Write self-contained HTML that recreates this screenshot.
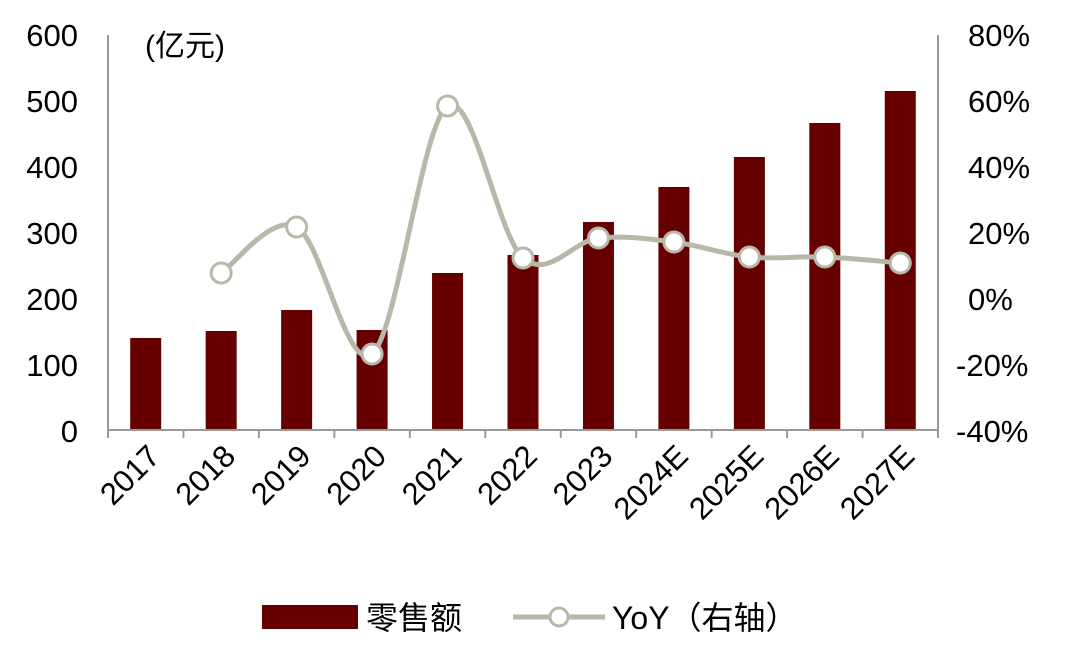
<!DOCTYPE html>
<html><head><meta charset="utf-8"><style>
body{margin:0;background:#fff;}
svg text{font-family:"Liberation Sans","Noto Sans CJK SC",sans-serif;fill:#000;}
</style></head><body>
<svg id="s" width="1075" height="647" viewBox="0 0 1075 647" xmlns="http://www.w3.org/2000/svg">
<g id="bars" fill="#660000"></g>
<line x1="108" y1="35" x2="108" y2="431" stroke="#999" stroke-width="2"/>
<line x1="938" y1="35" x2="938" y2="431" stroke="#999" stroke-width="2"/>
<line x1="108" y1="430" x2="938" y2="430" stroke="#999" stroke-width="2"/>
<g id="ticks" stroke="#999" stroke-width="2"></g>
<path id="line" fill="none" stroke="#b8b8a8" stroke-width="5"/>
<g id="marks" fill="#fff" stroke="#b8b8a8" stroke-width="3"></g>
<g font-size="31" text-anchor="end">
<text x="78" y="46">600</text><text x="78" y="112">500</text><text x="78" y="178">400</text>
<text x="78" y="244">300</text><text x="78" y="310">200</text><text x="78" y="376">100</text><text x="78" y="442">0</text>
</g>
<g font-size="31" text-anchor="start">
<text x="968" y="46">80%</text><text x="968" y="112">60%</text><text x="968" y="178">40%</text>
<text x="968" y="244">20%</text><text x="968" y="310">0%</text><text x="956" y="376">-20%</text><text x="956" y="442">-40%</text>
</g>
<text x="145" y="56" font-size="30">(亿元)</text>
<g id="xl" font-size="31" text-anchor="end"></g>
<rect x="262" y="605" width="96" height="24" fill="#660000"/>
<text x="366" y="629" font-size="32">零售额</text>
<line x1="513" y1="617" x2="605" y2="617" stroke="#b8b8a8" stroke-width="5"/>
<circle cx="559" cy="617" r="9" fill="#fff" stroke="#b8b8a8" stroke-width="3"/>
<text x="612" y="629" font-size="32">YoY（右轴）</text>
</svg>
<script>
var ns="http://www.w3.org/2000/svg";
function el(t,a,p){var e=document.createElementNS(ns,t);for(var k in a)e.setAttribute(k,a[k]);document.getElementById(p).appendChild(e);return e;}
var cw=830/11;
var tops=[338,331,310,330,273,255,222,187,157,123,91];
var labs=["2017","2018","2019","2020","2021","2022","2023","2024E","2025E","2026E","2027E"];
for(var i=0;i<11;i++){var c=108+cw*(i+0.5);
el("rect",{x:c-15.5,y:tops[i],width:31,height:430-tops[i]},"bars");
var t=el("text",{x:c+16,y:458,transform:"rotate(-45 "+(c+16)+" 458)"},"xl");t.textContent=labs[i];}
for(var i=0;i<=11;i++){var x=108+cw*i;el("line",{x1:x,y1:430,x2:x,y2:438},"ticks");}
var ly=[273,227,354,106,258,238,242,257,257,263];
var P=ly.map(function(y,j){return [108+cw*(j+1.5),y];});
var d="M"+P[0][0]+","+P[0][1];
for(var i=0;i<P.length-1;i++){var p0=P[i-1]||P[i],p1=P[i],p2=P[i+1],p3=P[i+2]||P[i+1];
d+=" C"+(p1[0]+(p2[0]-p0[0])/6)+","+(p1[1]+(p2[1]-p0[1])/6)+" "+(p2[0]-(p3[0]-p1[0])/6)+","+(p2[1]-(p3[1]-p1[1])/6)+" "+p2[0]+","+p2[1];}
document.getElementById("line").setAttribute("d",d);
P.forEach(function(p){el("circle",{cx:p[0],cy:p[1],r:10},"marks");});
</script>
</body></html>
